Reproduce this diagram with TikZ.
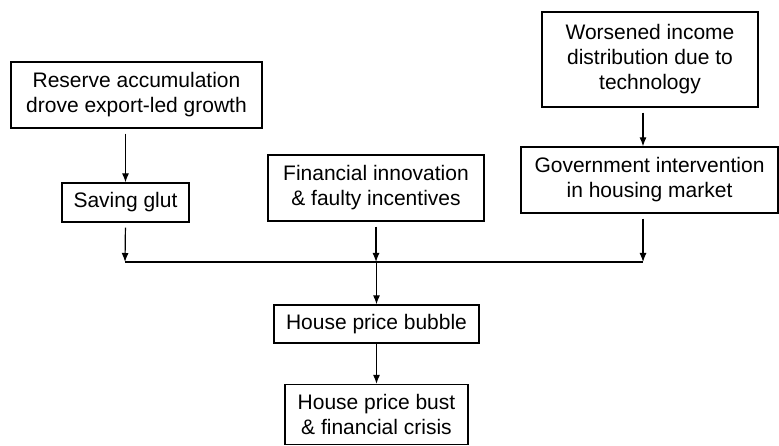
\documentclass[tikz,border=0pt]{standalone}
\usepackage{fontspec}
\setmainfont{Liberation Sans}
\usetikzlibrary{arrows.meta}
\begin{document}
\begin{tikzpicture}[x=1pt,y=-1pt,
  box/.style={draw,line width=1.2pt,inner sep=0pt,align=center,font=\fontsize{21}{25}\selectfont},
  conn/.style={line width=1.2pt,-{Latex[length=9pt,width=7pt]}},
  link/.style={line width=1.2pt}]
\useasboundingbox (0,0) rectangle (779,446);
\node[box,minimum width=251pt,minimum height=66pt] (R) at (136.5,95) {Reserve accumulation\\drove export-led growth};
\node[box,minimum width=127pt,minimum height=39pt] (S) at (125.5,202.5) {Saving glut};
\node[box,minimum width=216pt,minimum height=66pt] (F) at (376,188) {Financial innovation\\\& faulty incentives};
\node[box,minimum width=216pt,minimum height=95pt] (W) at (650,59.5) {Worsened income\\distribution due to\\technology};
\node[box,minimum width=257pt,minimum height=66pt] (G) at (649.5,180) {Government intervention\\in housing market};
\node[box,minimum width=205pt,minimum height=38pt] (B) at (376.5,324) {House price bubble};
\node[box,minimum width=183pt,minimum height=60pt] (C) at (376.5,414.5) {House price bust\\\& financial crisis};
\coordinate (jl) at (125,262);
\coordinate (jm) at (376.5,262);
\coordinate (jr) at (643,262);
\draw[link] (jl) -- (jr);
\draw[conn,shorten <=5pt] (R.south -| S.north) -- (S.north);
\draw[conn,shorten <=5pt] (S.south) -- (jl);
\draw[conn,shorten <=5pt] (F.south) -- (F.south |- jl);
\draw[conn,shorten <=5pt] (W.south -| jr) -- (G.north -| jr);
\draw[conn,shorten <=5pt] (G.south -| jr) -- (jr);
\draw[conn] (jm) -- (B.north);
\draw[conn] (B.south) -- (C.north);
\end{tikzpicture}
\end{document}
